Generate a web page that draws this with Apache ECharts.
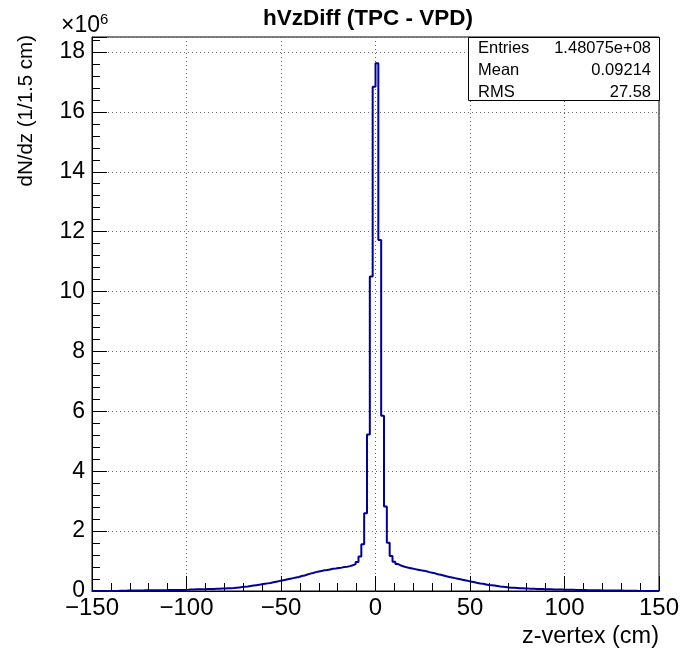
<!DOCTYPE html>
<html>
<head>
<meta charset="utf-8">
<script src="https://cdn.jsdelivr.net/npm/echarts@6/dist/echarts.min.js"></script>
<style>
	html, body { margin: 0; padding: 0; background: #fff; }
	#chart { width: 690px; height: 655px; }
</style>
</head>
<body>
<div id="chart"></div>
<script>
// histogram binning (cm)
var binMin = -150;
var binMax = 150;
var binWidth = 1.5;

// bin contents in units of 1e6
var leftTail =
[
	0.002, 0.002, 0.003, 0.002, 0.003, 0.003, 0.004, 0.003, 0.004, 0.005, 0.006,
	0.012, 0.014, 0.015, 0.016, 0.018, 0.019, 0.020, 0.021, 0.022, 0.024, 0.025, 0.026,
	0.027, 0.028, 0.029, 0.030, 0.031, 0.032, 0.033, 0.034, 0.035, 0.036, 0.038,
	0.050, 0.052, 0.055, 0.058, 0.060, 0.062, 0.064, 0.066, 0.068, 0.071, 0.074,
	0.080, 0.085, 0.090, 0.095, 0.100,
	0.11, 0.12, 0.13,
	0.14, 0.15, 0.165, 0.18,
	0.195, 0.21, 0.225,
	0.24, 0.255, 0.27, 0.29,
	0.31, 0.33, 0.35,
	0.37, 0.39, 0.41, 0.43,
	0.45, 0.47, 0.50, 0.52,
	0.55, 0.58, 0.60, 0.63,
	0.65, 0.67, 0.69, 0.70,
	0.72, 0.74, 0.75, 0.77,
	0.78, 0.80, 0.81, 0.83,
	0.86, 0.90,
	0.97, 1.15, 1.56
];

var peak = [2.60, 5.23, 10.50, 16.84, 17.62, 11.72, 5.85, 2.82];

var rightTail =
[
	1.61, 1.17, 0.98, 0.90,
	0.85, 0.82,
	0.79, 0.77, 0.75, 0.73,
	0.71, 0.69, 0.68, 0.66,
	0.63, 0.61, 0.59, 0.56,
	0.54, 0.52, 0.49, 0.47,
	0.45, 0.43, 0.41, 0.39,
	0.37, 0.35, 0.33, 0.31,
	0.29, 0.27, 0.25, 0.24,
	0.22, 0.20, 0.19, 0.18,
	0.165, 0.15, 0.14, 0.13,
	0.12, 0.11, 0.105, 0.10,
	0.095, 0.090, 0.085, 0.080, 0.077, 0.074,
	0.070, 0.067, 0.064, 0.061, 0.058, 0.055,
	0.052, 0.050, 0.048, 0.046, 0.044, 0.042, 0.040,
	0.038, 0.036, 0.034, 0.032, 0.030, 0.028, 0.026,
	0.024, 0.022, 0.021, 0.020, 0.019, 0.018, 0.017, 0.016,
	0.015, 0.014, 0.013, 0.012, 0.011, 0.010, 0.009, 0.008,
	0.004, 0.004, 0.003, 0.003, 0.003, 0.002, 0.002, 0.002
];

var statNames = ['Entries', 'Mean', 'RMS'];
var statValues = ['1.48075e+08', '0.09214', '27.58'];

var counts = leftTail.concat(peak, rightTail);

// step points at each bin's low edge, plus the closing edge
var points = counts.map(function(v, i) { return [binMin + i * binWidth, v]; });
points.push([binMax, counts[counts.length - 1]]);

var font = 'Liberation Sans, Arial, Helvetica, sans-serif';

var gridLeft = 92, gridTop = 37, gridRight = 659, gridBottom = 591;

var statGraphics = [];
statNames.forEach(function(name, i)
{
	var y = 48 + i * 22;
	statGraphics.push({ type: 'text', style: { x: 478, y: y, text: name, font: '16.5px ' + font, fill: '#000', textAlign: 'left', textVerticalAlign: 'middle' } });
	statGraphics.push({ type: 'text', style: { x: 651, y: y, text: statValues[i], font: '16.5px ' + font, fill: '#000', textAlign: 'right', textVerticalAlign: 'middle' } });
});

var chart = echarts.init(document.getElementById('chart'), null, { renderer: 'canvas' });

var options =
{
	animation: false,
	backgroundColor: '#fff',
	grid:
	{
		left: gridLeft,
		top: gridTop,
		right: 690 - gridRight,
		bottom: 655 - gridBottom,
		show: true,
		borderColor: '#000',
		borderWidth: 1,
		backgroundColor: 'transparent'
	},
	xAxis:
	{
		type: 'value',
		min: binMin,
		max: binMax,
		interval: 50,
		axisLine: { show: true, onZero: false, lineStyle: { color: '#000', width: 1 } },
		axisTick: { show: true, inside: true, length: 15, lineStyle: { color: '#000' } },
		minorTick: { show: true, splitNumber: 5, length: 8, lineStyle: { color: '#000' } },
		splitLine: { show: true, lineStyle: { color: '#666', type: [1, 3], width: 1 } },
		axisLabel:
		{
			margin: 5,
			fontSize: 24,
			fontFamily: font,
			color: '#000',
			formatter: function(v) { return v < 0 ? '\u2212' + Math.abs(v) : String(v); }
		}
	},
	yAxis:
	{
		type: 'value',
		min: 0,
		max: 18.5,
		interval: 2,
		axisLine: { show: true, onZero: false, lineStyle: { color: '#000', width: 1 } },
		axisTick: { show: true, inside: true, length: 15, lineStyle: { color: '#000' } },
		minorTick: { show: true, splitNumber: 5, length: 8, lineStyle: { color: '#000' } },
		splitLine: { show: true, lineStyle: { color: '#666', type: [1, 3], width: 1 } },
		axisLabel:
		{
			margin: 7,
			fontSize: 23,
			fontFamily: font,
			color: '#000',
			formatter: function(v) { return v % 2 === 0 ? String(v) : ''; }
		}
	},
	series:
	[
		{
			type: 'line',
			step: 'end',
			data: points,
			showSymbol: false,
			symbol: 'none',
			lineStyle: { color: '#000099', width: 2 },
			z: 5
		}
	],
	graphic:
	[
		{
			type: 'text',
			style: { x: 368, y: 19, text: 'hVzDiff (TPC - VPD)', font: 'bold 22.5px ' + font, fill: '#000', textAlign: 'center', textVerticalAlign: 'middle' }
		},
		{
			type: 'text',
			style:
			{
				x: 61, y: 26,
				text: '\u00d710{sup|6}',
				font: '23px ' + font,
				fill: '#000',
				textVerticalAlign: 'middle',
				rich: { sup: { fontSize: 15, fontFamily: font, verticalAlign: 'top', padding: [0, 0, 13, 0] } }
			}
		},
		{
			type: 'text',
			x: 26, y: 35,
			rotation: Math.PI / 2,
			style: { x: 0, y: 0, text: 'dN/dz (1/1.5 cm)', font: '20.5px ' + font, fill: '#000', textAlign: 'right', textVerticalAlign: 'middle' }
		},
		{
			type: 'text',
			style: { x: 659, y: 637, text: 'z-vertex (cm)', font: '23.5px ' + font, fill: '#000', textAlign: 'right', textVerticalAlign: 'middle' }
		},
		{
			type: 'rect',
			shape: { x: 468.5, y: 37.5, width: 191, height: 63 },
			style: { fill: '#fff', stroke: '#000', lineWidth: 1 },
			z: 10
		}
	].concat(statGraphics.map(function(g) { g.z = 11; return g; }))
};

chart.setOption(options);
</script>
</body>
</html>
